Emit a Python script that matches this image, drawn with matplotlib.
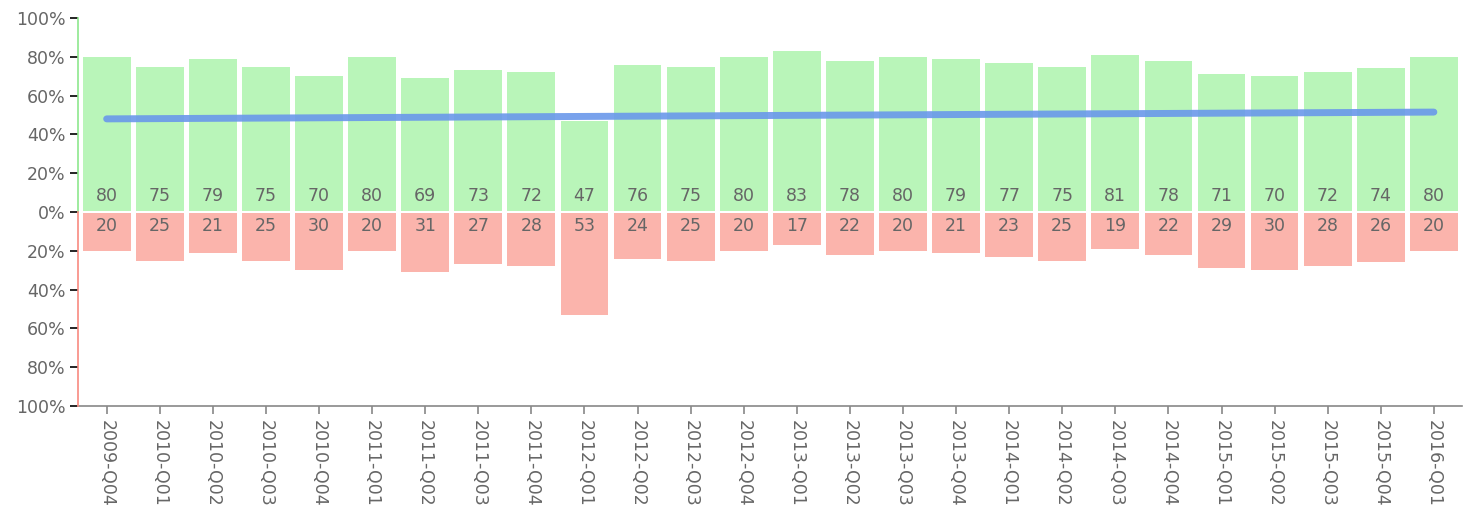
import matplotlib
matplotlib.use("Agg")
import matplotlib.pyplot as plt
import numpy as np

categories = ["2009-Q04", "2010-Q01", "2010-Q02", "2010-Q03", "2010-Q04",
              "2011-Q01", "2011-Q02", "2011-Q03", "2011-Q04", "2012-Q01",
              "2012-Q02", "2012-Q03", "2012-Q04", "2013-Q01", "2013-Q02",
              "2013-Q03", "2013-Q04", "2014-Q01", "2014-Q02", "2014-Q03",
              "2014-Q04", "2015-Q01", "2015-Q02", "2015-Q03", "2015-Q04",
              "2016-Q01"]
positive = [80, 75, 79, 75, 70, 80, 69, 73, 72, 47, 76, 75, 80, 83, 78,
            80, 79, 77, 75, 81, 78, 71, 70, 72, 74, 80]
negative = [20, 25, 21, 25, 30, 20, 31, 27, 28, 53, 24, 25, 20, 17, 22,
            20, 21, 23, 25, 19, 22, 29, 30, 28, 26, 20]
trend_idx = [0, 25]
trend_values = [48.0, 51.5]
y_ticks = [-100, -80, -60, -40, -20, 0, 20, 40, 60, 80, 100]

green = "#b9f5b9"
red = "#fbb4ac"
text_gray = "#666666"
fs = 12.5

fig = plt.figure(figsize=(14.74, 5.17), dpi=100)
ax = fig.add_axes([78 / 1474, 1 - 406 / 517, (1462 - 78) / 1474, (406 - 18) / 517])

x = np.arange(len(categories))
w = 0.9
ax.bar(x, [p - 0.6 for p in positive], bottom=0.6, width=w, color=green, linewidth=0, zorder=2)
ax.bar(x, [-(n - 0.6) for n in negative], bottom=-0.6, width=w, color=red, linewidth=0, zorder=2)

for xi, p, n in zip(x, positive, negative):
    ax.text(xi, 8, str(p), ha="center", va="center", fontsize=fs, color=text_gray, zorder=4)
    ax.text(xi, -7, str(n), ha="center", va="center", fontsize=fs, color=text_gray, zorder=4)

ax.plot(trend_idx, trend_values, color="#6a98ea", lw=5, alpha=0.9,
        solid_capstyle="round", zorder=3)

ax.set_xlim(-0.54, len(categories) - 0.47)
ax.set_ylim(-100, 100)

for s in ["top", "right"]:
    ax.spines[s].set_visible(False)
ax.spines["left"].set_visible(False)
ax.spines["bottom"].set_color("#888888")
ax.spines["bottom"].set_linewidth(1.2)

# left axis line: green above 0, red below
xl = ax.get_xlim()[0]
ax.plot([xl, xl], [0, 100], color="#8ee88e", lw=1.2, clip_on=False, zorder=5)
ax.plot([xl, xl], [-100, 0], color="#f88a80", lw=1.2, clip_on=False, zorder=5)

ax.set_yticks(y_ticks)
ax.set_yticklabels([f"{abs(v)}%" for v in y_ticks], fontsize=fs, color=text_gray)
for t, v in zip(ax.yaxis.get_major_ticks(), y_ticks):
    c = "#8ee88e" if v > 0 else ("#f88a80" if v < 0 else "#bbbbbb")
    t.tick1line.set_color(c)
ax.tick_params(axis="y", length=6, width=1.2, pad=3)

ax.set_xticks(x)
ax.set_xticklabels(categories, rotation=270, fontsize=fs, color=text_gray)
ax.tick_params(axis="x", length=6, width=1.2, color="#888888", pad=4)

fig.savefig("out.png", dpi=100)
